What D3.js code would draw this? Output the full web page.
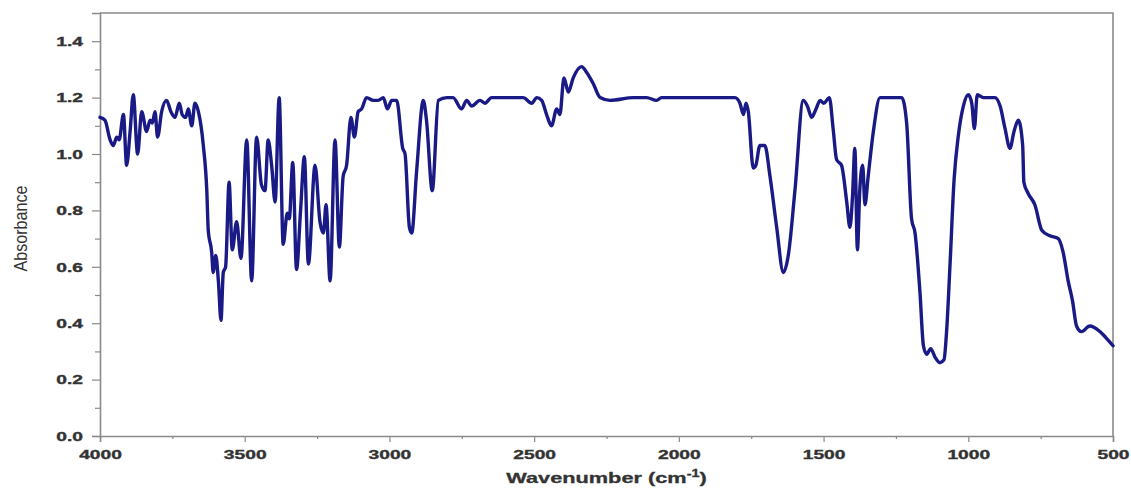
<!DOCTYPE html>
<html>
<head>
<meta charset="utf-8">
<script src="https://cdn.jsdelivr.net/npm/d3@7"></script>
<style>
  html, body { margin: 0; padding: 0; background: #fff; }
  svg { display: block; }
</style>
</head>
<body>
<svg id="chart" width="1131" height="488"></svg>
<script>
// FTIR spectrum: wavenumber (cm-1) and absorbance
const wavenumber = [
  4000, 3983, 3965, 3954, 3942, 3934, 3919, 3908, 3896, 3885, 3870, 3856, 3839, 3827, 3819, 3810,
  3801, 3787, 3770, 3755, 3741, 3726, 3716, 3704, 3695, 3683, 3672, 3660, 3643, 3631, 3626, 3614,
  3609, 3600, 3591, 3582, 3574, 3566, 3554, 3543, 3528, 3513, 3493, 3476, 3459, 3442, 3430, 3419,
  3407, 3395, 3381, 3367, 3353, 3346, 3334, 3321, 3307, 3294, 3280, 3257, 3240, 3228, 3219, 3205,
  3188, 3173, 3160, 3148, 3133, 3121, 3108, 3096, 3079, 3056, 3039, 3021, 3007, 2992, 2975, 2954,
  2946, 2931, 2923, 2906, 2883, 2872, 2852, 2831, 2802, 2780, 2751, 2733, 2716, 2687, 2670, 2647,
  2607, 2572, 2538, 2508, 2491, 2474, 2457, 2440, 2422, 2411, 2397, 2382, 2365, 2336, 2319, 2296,
  2272, 2238, 2157, 2111, 2077, 2060, 1927, 1870, 1823, 1806, 1789, 1777, 1768, 1760, 1743, 1734,
  1720, 1703, 1685, 1662, 1639, 1622, 1599, 1570, 1556, 1541, 1526, 1512, 1499, 1480, 1467, 1455,
  1438, 1420, 1409, 1400, 1392, 1383, 1375, 1365, 1357, 1346, 1328, 1305, 1236, 1230, 1213, 1196,
  1184, 1167, 1155, 1144, 1130, 1115, 1098, 1084, 1075, 1063, 1049, 1035, 1017, 1000, 988, 979,
  969, 948, 908, 890, 873, 856, 842, 827, 812, 808, 793, 770, 746, 718, 689, 672,
  655, 640, 626, 609, 580, 545, 517, 500
];
const absorbance = [
  1.13, 1.12, 1.05, 1.03, 1.06, 1.05, 1.14, 0.96, 1.08, 1.21, 1.00, 1.15, 1.08, 1.12, 1.11, 1.15,
  1.06, 1.15, 1.19, 1.15, 1.13, 1.18, 1.14, 1.13, 1.16, 1.10, 1.18, 1.15, 1.03, 0.87, 0.73, 0.65,
  0.58, 0.64, 0.55, 0.41, 0.58, 0.60, 0.90, 0.66, 0.76, 0.63, 1.05, 0.55, 1.06, 0.89, 0.87, 1.05,
  0.96, 0.83, 1.20, 0.68, 0.79, 0.77, 0.97, 0.59, 0.80, 0.99, 0.61, 0.96, 0.76, 0.72, 0.82, 0.55,
  1.05, 0.67, 0.92, 0.96, 1.13, 1.06, 1.15, 1.16, 1.20, 1.19, 1.19, 1.20, 1.16, 1.19, 1.19, 1.02,
  1.00, 0.74, 0.72, 0.94, 1.19, 1.12, 0.87, 1.19, 1.20, 1.20, 1.16, 1.19, 1.17, 1.19, 1.18, 1.20,
  1.20, 1.20, 1.20, 1.18, 1.20, 1.19, 1.14, 1.10, 1.16, 1.14, 1.27, 1.22, 1.27, 1.31, 1.29, 1.25,
  1.20, 1.19, 1.20, 1.20, 1.19, 1.20, 1.20, 1.20, 1.20, 1.20, 1.18, 1.14, 1.18, 1.15, 0.95, 0.96,
  1.03, 1.03, 0.92, 0.74, 0.58, 0.64, 0.87, 1.19, 1.17, 1.13, 1.16, 1.19, 1.18, 1.20, 1.09, 0.98,
  0.96, 0.83, 0.74, 0.85, 1.02, 0.66, 0.87, 0.96, 0.82, 0.92, 1.08, 1.20, 1.20, 1.20, 1.11, 0.77,
  0.72, 0.51, 0.32, 0.29, 0.31, 0.28, 0.26, 0.27, 0.37, 0.61, 0.91, 1.06, 1.17, 1.21, 1.18, 1.09,
  1.21, 1.20, 1.20, 1.17, 1.09, 1.02, 1.08, 1.12, 1.03, 0.90, 0.86, 0.82, 0.73, 0.71, 0.70, 0.65,
  0.55, 0.48, 0.39, 0.37, 0.39, 0.37, 0.34, 0.32
];
const xTicks = [4000, 3500, 3000, 2500, 2000, 1500, 1000, 500];
const xMinorTicks = [3750, 3250, 2750, 2250, 1750, 1250, 750];
const yTicks = [0.0, 0.2, 0.4, 0.6, 0.8, 1.0, 1.2, 1.4];
const yMinorTicks = [0.1, 0.3, 0.5, 0.7, 0.9, 1.1, 1.3];

const svg = d3.select("#chart");
const plot = { left: 100, right: 1113, top: 13, bottom: 436 };
const axisColor = "#8a8a8a";
const labelColor = "#333";
const stretch = 1.6;   // tick labels are drawn wide

const x = d3.scaleLinear().domain([4000, 500]).range([plot.left, plot.right]);
const y = d3.scaleLinear().domain([0, 1.5]).range([plot.bottom, plot.top]);

// frame: top and right edges
svg.append("path")
  .attr("d", `M${plot.left},${plot.top}H${plot.right}V${plot.bottom}`)
  .attr("fill", "none").attr("stroke", axisColor).attr("stroke-width", 1.6);

// minor ticks
const gxMinor = svg.append("g").attr("transform", `translate(0,${plot.bottom})`)
  .call(d3.axisBottom(x).tickValues(xMinorTicks).tickSize(3).tickFormat(""));
const gyMinor = svg.append("g").attr("transform", `translate(${plot.left},0)`)
  .call(d3.axisLeft(y).tickValues(yMinorTicks).tickSize(5).tickFormat(""));
[gxMinor, gyMinor].forEach(g => {
  g.select(".domain").remove();
  g.selectAll(".tick line").attr("stroke", axisColor).attr("stroke-width", 1.2);
});

const tickFont = "bold 12px 'Liberation Sans', Arial, sans-serif";

// bottom axis
const gx = svg.append("g").attr("transform", `translate(0,${plot.bottom})`)
  .call(d3.axisBottom(x).tickValues(xTicks).tickSize(6).tickFormat(d3.format("d")));
gx.select(".domain").attr("stroke", axisColor).attr("stroke-width", 1.6);
gx.selectAll(".tick line").attr("stroke", axisColor).attr("stroke-width", 1.2);
gx.selectAll(".tick text")
  .attr("y", 0).attr("dy", 0)
  .attr("transform", `translate(0,23) scale(${stretch},1)`)
  .attr("fill", labelColor)
  .attr("stroke", labelColor).attr("stroke-width", 0.35)
  .style("font", tickFont);

// left axis
const gy = svg.append("g").attr("transform", `translate(${plot.left},0)`)
  .call(d3.axisLeft(y).tickValues(yTicks).tickSize(8).tickFormat(d3.format(".1f")));
gy.select(".domain").attr("stroke", axisColor).attr("stroke-width", 1.6);
gy.selectAll(".tick line").attr("stroke", axisColor).attr("stroke-width", 1.2);
gy.selectAll(".tick text")
  .attr("x", 0).attr("dy", "0.35em")
  .attr("transform", `translate(-17,0) scale(${stretch},1)`)
  .attr("fill", labelColor)
  .attr("stroke", labelColor).attr("stroke-width", 0.35)
  .style("font", tickFont);

// axis titles
const xTitle = svg.append("text")
  .attr("transform", `translate(${(plot.left + plot.right) / 2},483) scale(1.45,1)`)
  .attr("text-anchor", "middle")
  .attr("fill", labelColor)
  .attr("stroke", labelColor).attr("stroke-width", 0.3)
  .style("font", "bold 15px 'Liberation Sans', Arial, sans-serif");
xTitle.append("tspan").text("Wavenumber (cm");
xTitle.append("tspan").attr("dy", -6).style("font-size", "10px").text("-1");
xTitle.append("tspan").attr("dy", 6).text(")");

svg.append("text")
  .attr("transform", `translate(27,${(plot.top + plot.bottom) / 2 + 4}) rotate(-90)`)
  .attr("text-anchor", "middle")
  .attr("fill", labelColor)
  .attr("textLength", 86).attr("lengthAdjust", "spacingAndGlyphs")
  .style("font", "19px 'Liberation Sans Narrow', 'Liberation Sans', Arial, sans-serif")
  .text("Absorbance");

// spectrum trace
const points = wavenumber.map((w, i) => [w, absorbance[i]]);
const line = d3.line()
  .x(d => x(d[0]))
  .y(d => y(d[1]))
  .curve(d3.curveMonotoneX);

svg.append("path")
  .datum(points)
  .attr("d", line)
  .attr("fill", "none")
  .attr("stroke", "#1a1a86")
  .attr("stroke-width", 3.4)
  .attr("stroke-linejoin", "round")
  .attr("stroke-linecap", "round");
</script>
</body>
</html>
